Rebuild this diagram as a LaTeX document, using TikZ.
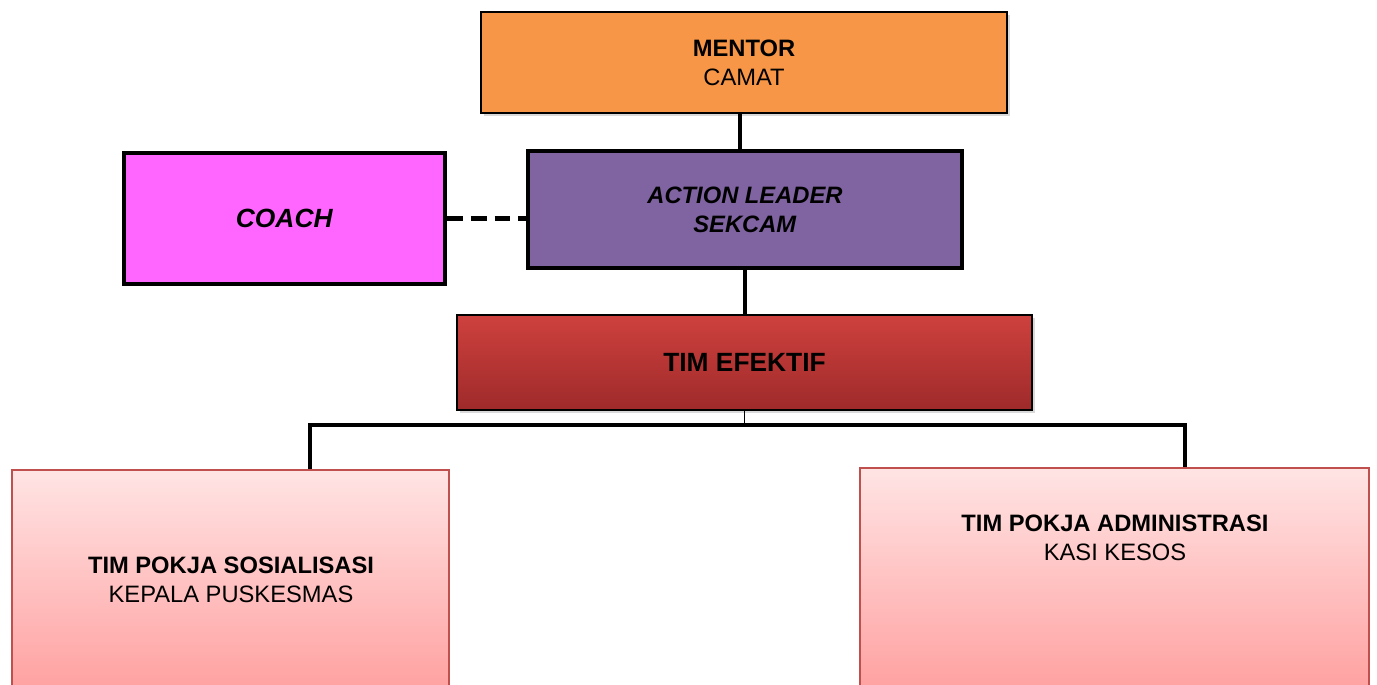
\documentclass[tikz,border=0pt]{standalone}
\usepackage{fontspec}
\setmainfont{Liberation Sans}
\usetikzlibrary{shadows}
\definecolor{oranye}{RGB}{247,150,70}
\definecolor{ungu}{RGB}{128,100,162}
\definecolor{merahmuda}{RGB}{255,102,255}
\definecolor{merahatas}{RGB}{206,65,62}
\definecolor{merahbawah}{RGB}{158,42,42}
\definecolor{pinkatas}{RGB}{255,228,228}
\definecolor{pinkbawah}{RGB}{255,160,160}
\definecolor{garispink}{RGB}{192,80,77}

\begin{document}
\begin{tikzpicture}[x=0.02cm,y=-0.02cm,
    kotak/.style={rectangle,draw=black,line width=0.9pt,inner sep=0pt,align=center,
      font=\fontsize{13.5}{16.5}\selectfont},
    tebal/.style={kotak,line width=2.4pt},
    bayang/.style={drop shadow={shadow xshift=1.5pt,shadow yshift=-1.5pt,opacity=0.3}},
    pokja/.style={rectangle,draw=garispink,line width=0.9pt,inner sep=0pt,
      top color=pinkatas,bottom color=pinkbawah},
    teks/.style={align=center,font=\fontsize{13.5}{16.5}\selectfont},
    garis/.style={line width=2.5pt}]
\newdimen\U
\U=0.02cm
\useasboundingbox (0,0) rectangle (1377,684);
\clip (0,0) rectangle (1377,684);
% kotak atas
\node[kotak,bayang,fill=oranye,minimum width=526\U,minimum height=101\U] (mentor) at (744,62.5)
  {\textbf{MENTOR}\\CAMAT};
\node[tebal,fill=ungu,minimum width=434\U,minimum height=117\U] (leader) at (745,209.5)
  {\textbf{\textit{ACTION LEADER}}\\\textbf{\textit{SEKCAM}}};
\node[tebal,fill=merahmuda,minimum width=321\U,minimum height=131\U] (coach) at (284.5,218.5)
  {\fontsize{15}{18}\selectfont\textbf{\textit{COACH}}};
\node[kotak,bayang,top color=merahatas,bottom color=merahbawah,minimum width=575\U,minimum height=95\U] (tim) at (744.5,362.5)
  {\fontsize{15}{18}\selectfont\textbf{TIM EFEKTIF}};
% kotak pokja
\node[pokja,minimum width=437\U,minimum height=222\U] (sos) at (230.5,581) {};
\node[pokja,minimum width=509\U,minimum height=224\U] (adm) at (1114.5,580) {};
\node[teks] (sostxt) at (231,580) {\textbf{TIM POKJA SOSIALISASI}\\KEPALA PUSKESMAS};
\node[teks] (admtxt) at (1115,538) {\textbf{TIM POKJA ADMINISTRASI}\\KASI KESOS};
% garis
\coordinate (bagi1) at (310,425);
\coordinate (bagi2) at (1185,425);
\coordinate (atas) at ([xshift=-4\U]mentor.south);
\draw[garis] (atas) -- (atas |- leader.north);
\draw[garis] (leader.south) -- (leader.south |- tim.north);
\draw[garis,dash pattern=on 9pt off 4.5pt] (coach.east) -- (coach.east -| leader.west);
\draw[thin] (tim.south) -- (tim.south |- bagi1);
\draw[garis] (sos.north -| bagi1) -- (bagi1) -- (bagi2) -- (adm.north -| bagi2);
\end{tikzpicture}
\end{document}
